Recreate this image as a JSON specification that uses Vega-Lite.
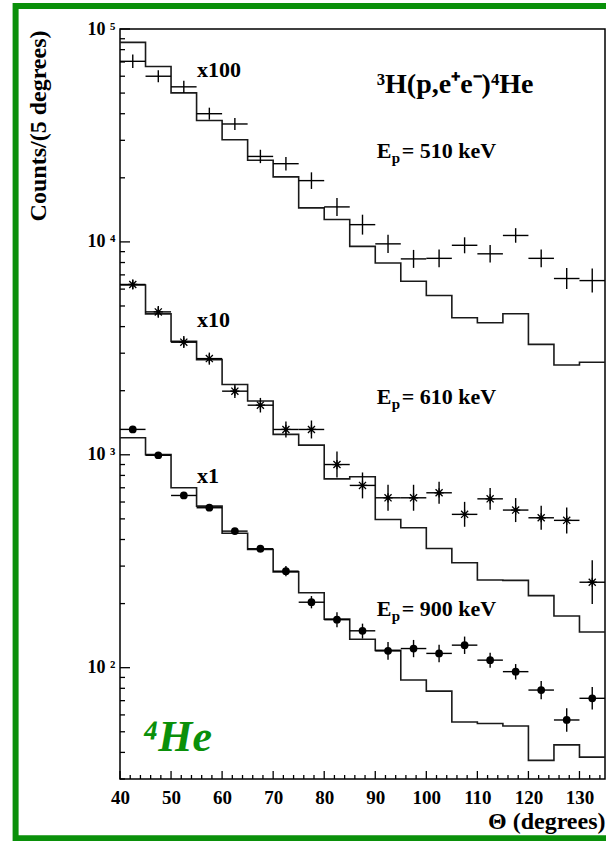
{
  "$schema": "https://vega.github.io/schema/vega-lite/v6.json",
  "width": 485,
  "height": 750,
  "autosize": {"type": "none"},
  "padding": {"left": 120, "top": 29, "right": 1, "bottom": 62},
  "background": "white",
  "config": {
    "view": {"stroke": "black", "strokeWidth": 1.5},
    "font": "Liberation Serif",
    "axis": {"labelFlush": false, "labelBound": false, "grid": false, "ticks": false, "domain": false, "labelColor": "black", "labelFont": "Liberation Serif", "labelFontWeight": "bold", "titleColor": "black", "titleFont": "Liberation Serif", "titleFontWeight": "bold"}
  },
  "datasets": {
    "hist": [
      {"E": "510", "x": 40, "c": 86500}, {"E": "510", "x": 45, "c": 66700}, {"E": "510", "x": 50, "c": 50100}, {"E": "510", "x": 55, "c": 37200},
      {"E": "510", "x": 60, "c": 30200}, {"E": "510", "x": 65, "c": 24200}, {"E": "510", "x": 70, "c": 20200}, {"E": "510", "x": 75, "c": 14450},
      {"E": "510", "x": 80, "c": 12740}, {"E": "510", "x": 85, "c": 9530}, {"E": "510", "x": 90, "c": 7960}, {"E": "510", "x": 95, "c": 6530},
      {"E": "510", "x": 100, "c": 5600}, {"E": "510", "x": 105, "c": 4400}, {"E": "510", "x": 110, "c": 4170}, {"E": "510", "x": 115, "c": 4600},
      {"E": "510", "x": 120, "c": 3300}, {"E": "510", "x": 125, "c": 2640}, {"E": "510", "x": 130, "c": 2720}, {"E": "510", "x": 135, "c": 2720},
      {"E": "610", "x": 40, "c": 6270}, {"E": "610", "x": 45, "c": 4590}, {"E": "610", "x": 50, "c": 3410}, {"E": "610", "x": 55, "c": 2800},
      {"E": "610", "x": 60, "c": 2140}, {"E": "610", "x": 65, "c": 1790}, {"E": "610", "x": 70, "c": 1247}, {"E": "610", "x": 75, "c": 1110},
      {"E": "610", "x": 80, "c": 771}, {"E": "610", "x": 85, "c": 788}, {"E": "610", "x": 90, "c": 497}, {"E": "610", "x": 95, "c": 454},
      {"E": "610", "x": 100, "c": 363}, {"E": "610", "x": 105, "c": 311}, {"E": "610", "x": 110, "c": 258}, {"E": "610", "x": 115, "c": 257},
      {"E": "610", "x": 120, "c": 218}, {"E": "610", "x": 125, "c": 175}, {"E": "610", "x": 130, "c": 147}, {"E": "610", "x": 135, "c": 147},
      {"E": "900", "x": 40, "c": 1202}, {"E": "900", "x": 45, "c": 1002}, {"E": "900", "x": 50, "c": 700}, {"E": "900", "x": 55, "c": 574},
      {"E": "900", "x": 60, "c": 428}, {"E": "900", "x": 65, "c": 359}, {"E": "900", "x": 70, "c": 282}, {"E": "900", "x": 75, "c": 225},
      {"E": "900", "x": 80, "c": 169}, {"E": "900", "x": 85, "c": 136}, {"E": "900", "x": 90, "c": 120.6}, {"E": "900", "x": 95, "c": 87.5},
      {"E": "900", "x": 100, "c": 77.6}, {"E": "900", "x": 105, "c": 55.6}, {"E": "900", "x": 110, "c": 54.7}, {"E": "900", "x": 115, "c": 53.2},
      {"E": "900", "x": 120, "c": 36.7}, {"E": "900", "x": 125, "c": 43.4}, {"E": "900", "x": 130, "c": 38.0}, {"E": "900", "x": 135, "c": 38.0}
    ],
    "pts": [
      {"E": "510", "x": 42.5, "x0": 40, "x1": 45, "c": 70500, "lo": 65600, "hi": 75800},
      {"E": "510", "x": 47.5, "x0": 45, "x1": 50, "c": 60000, "lo": 56200, "hi": 64000},
      {"E": "510", "x": 52.5, "x0": 50, "x1": 55, "c": 53500, "lo": 50100, "hi": 57100},
      {"E": "510", "x": 57.5, "x0": 55, "x1": 60, "c": 40000, "lo": 37500, "hi": 42700},
      {"E": "510", "x": 62.5, "x0": 60, "x1": 65, "c": 35800, "lo": 33550, "hi": 38200},
      {"E": "510", "x": 67.5, "x0": 65, "x1": 70, "c": 25200, "lo": 23440, "hi": 27090},
      {"E": "510", "x": 72.5, "x0": 70, "x1": 75, "c": 23300, "lo": 21670, "hi": 25050},
      {"E": "510", "x": 77.5, "x0": 75, "x1": 80, "c": 19400, "lo": 17730, "hi": 21220},
      {"E": "510", "x": 82.5, "x0": 80, "x1": 85, "c": 14600, "lo": 13250, "hi": 16090},
      {"E": "510", "x": 87.5, "x0": 85, "x1": 90, "c": 12050, "lo": 10820, "hi": 13420},
      {"E": "510", "x": 92.5, "x0": 90, "x1": 95, "c": 9790, "lo": 8880, "hi": 10790},
      {"E": "510", "x": 97.5, "x0": 95, "x1": 100, "c": 8320, "lo": 7550, "hi": 9170},
      {"E": "510", "x": 102.5, "x0": 100, "x1": 105, "c": 8370, "lo": 7600, "hi": 9220},
      {"E": "510", "x": 107.5, "x0": 105, "x1": 110, "c": 9640, "lo": 8840, "hi": 10510},
      {"E": "510", "x": 112.5, "x0": 110, "x1": 115, "c": 8790, "lo": 8000, "hi": 9660},
      {"E": "510", "x": 117.5, "x0": 115, "x1": 120, "c": 10720, "lo": 9910, "hi": 11600},
      {"E": "510", "x": 122.5, "x0": 120, "x1": 125, "c": 8370, "lo": 7600, "hi": 9220},
      {"E": "510", "x": 127.5, "x0": 125, "x1": 130, "c": 6730, "lo": 6010, "hi": 7540},
      {"E": "510", "x": 132.5, "x0": 130, "x1": 135, "c": 6580, "lo": 5780, "hi": 7490},
      {"E": "610", "x": 42.5, "x0": 40, "x1": 45, "c": 6310, "lo": 5980, "hi": 6660},
      {"E": "610", "x": 47.5, "x0": 45, "x1": 50, "c": 4690, "lo": 4400, "hi": 5000},
      {"E": "610", "x": 52.5, "x0": 50, "x1": 55, "c": 3380, "lo": 3170, "hi": 3610},
      {"E": "610", "x": 57.5, "x0": 55, "x1": 60, "c": 2830, "lo": 2650, "hi": 3020},
      {"E": "610", "x": 62.5, "x0": 60, "x1": 65, "c": 1990, "lo": 1850, "hi": 2140},
      {"E": "610", "x": 67.5, "x0": 65, "x1": 70, "c": 1710, "lo": 1580, "hi": 1850},
      {"E": "610", "x": 72.5, "x0": 70, "x1": 75, "c": 1315, "lo": 1206, "hi": 1433},
      {"E": "610", "x": 77.5, "x0": 75, "x1": 80, "c": 1315, "lo": 1193, "hi": 1449},
      {"E": "610", "x": 82.5, "x0": 80, "x1": 85, "c": 900, "lo": 782, "hi": 1036},
      {"E": "610", "x": 87.5, "x0": 85, "x1": 90, "c": 718, "lo": 624, "hi": 826},
      {"E": "610", "x": 92.5, "x0": 90, "x1": 95, "c": 628, "lo": 546, "hi": 723},
      {"E": "610", "x": 97.5, "x0": 95, "x1": 100, "c": 628, "lo": 546, "hi": 723},
      {"E": "610", "x": 102.5, "x0": 100, "x1": 105, "c": 663, "lo": 589, "hi": 747},
      {"E": "610", "x": 107.5, "x0": 105, "x1": 110, "c": 525, "lo": 459, "hi": 601},
      {"E": "610", "x": 112.5, "x0": 110, "x1": 115, "c": 621, "lo": 552, "hi": 699},
      {"E": "610", "x": 117.5, "x0": 115, "x1": 120, "c": 550, "lo": 483, "hi": 626},
      {"E": "610", "x": 122.5, "x0": 120, "x1": 125, "c": 506, "lo": 444, "hi": 576},
      {"E": "610", "x": 127.5, "x0": 125, "x1": 130, "c": 492, "lo": 427, "hi": 566},
      {"E": "610", "x": 132.5, "x0": 130, "x1": 135, "c": 252, "lo": 199, "hi": 320},
      {"E": "900", "x": 42.5, "x0": 40, "x1": 45, "c": 1316, "lo": 1274, "hi": 1359},
      {"E": "900", "x": 47.5, "x0": 45, "x1": 50, "c": 995, "lo": 963, "hi": 1028},
      {"E": "900", "x": 52.5, "x0": 50, "x1": 55, "c": 644, "lo": 623, "hi": 665},
      {"E": "900", "x": 57.5, "x0": 55, "x1": 60, "c": 564, "lo": 546, "hi": 583},
      {"E": "900", "x": 62.5, "x0": 60, "x1": 65, "c": 438, "lo": 424, "hi": 452},
      {"E": "900", "x": 67.5, "x0": 65, "x1": 70, "c": 362, "lo": 348, "hi": 376},
      {"E": "900", "x": 72.5, "x0": 70, "x1": 75, "c": 284, "lo": 269, "hi": 300},
      {"E": "900", "x": 77.5, "x0": 75, "x1": 80, "c": 203, "lo": 190, "hi": 217},
      {"E": "900", "x": 82.5, "x0": 80, "x1": 85, "c": 168, "lo": 155, "hi": 182},
      {"E": "900", "x": 87.5, "x0": 85, "x1": 90, "c": 149, "lo": 137, "hi": 161},
      {"E": "900", "x": 92.5, "x0": 90, "x1": 95, "c": 120, "lo": 109, "hi": 132},
      {"E": "900", "x": 97.5, "x0": 95, "x1": 100, "c": 123, "lo": 112, "hi": 135},
      {"E": "900", "x": 102.5, "x0": 100, "x1": 105, "c": 116.7, "lo": 106, "hi": 128},
      {"E": "900", "x": 107.5, "x0": 105, "x1": 110, "c": 127.6, "lo": 116, "hi": 140},
      {"E": "900", "x": 112.5, "x0": 110, "x1": 115, "c": 108.5, "lo": 100, "hi": 117.6},
      {"E": "900", "x": 117.5, "x0": 115, "x1": 120, "c": 95.8, "lo": 88, "hi": 104},
      {"E": "900", "x": 122.5, "x0": 120, "x1": 125, "c": 78.5, "lo": 71.1, "hi": 86.7},
      {"E": "900", "x": 127.5, "x0": 125, "x1": 130, "c": 56.8, "lo": 50.0, "hi": 64.5},
      {"E": "900", "x": 132.5, "x0": 130, "x1": 135, "c": 71.8, "lo": 63.6, "hi": 81.1}
    ],
    "xticks": [
      {"v": 40, "at": 30, "m": 1}, {"v": 42, "at": 30, "m": 0}, {"v": 44, "at": 30, "m": 0}, {"v": 46, "at": 30, "m": 0}, {"v": 48, "at": 30, "m": 0},
      {"v": 50, "at": 30, "m": 1}, {"v": 52, "at": 30, "m": 0}, {"v": 54, "at": 30, "m": 0}, {"v": 56, "at": 30, "m": 0}, {"v": 58, "at": 30, "m": 0},
      {"v": 60, "at": 30, "m": 1}, {"v": 62, "at": 30, "m": 0}, {"v": 64, "at": 30, "m": 0}, {"v": 66, "at": 30, "m": 0}, {"v": 68, "at": 30, "m": 0},
      {"v": 70, "at": 30, "m": 1}, {"v": 72, "at": 30, "m": 0}, {"v": 74, "at": 30, "m": 0}, {"v": 76, "at": 30, "m": 0}, {"v": 78, "at": 30, "m": 0},
      {"v": 80, "at": 30, "m": 1}, {"v": 82, "at": 30, "m": 0}, {"v": 84, "at": 30, "m": 0}, {"v": 86, "at": 30, "m": 0}, {"v": 88, "at": 30, "m": 0},
      {"v": 90, "at": 30, "m": 1}, {"v": 92, "at": 30, "m": 0}, {"v": 94, "at": 30, "m": 0}, {"v": 96, "at": 30, "m": 0}, {"v": 98, "at": 30, "m": 0},
      {"v": 100, "at": 30, "m": 1}, {"v": 102, "at": 30, "m": 0}, {"v": 104, "at": 30, "m": 0}, {"v": 106, "at": 30, "m": 0}, {"v": 108, "at": 30, "m": 0},
      {"v": 110, "at": 30, "m": 1}, {"v": 112, "at": 30, "m": 0}, {"v": 114, "at": 30, "m": 0}, {"v": 116, "at": 30, "m": 0}, {"v": 118, "at": 30, "m": 0},
      {"v": 120, "at": 30, "m": 1}, {"v": 122, "at": 30, "m": 0}, {"v": 124, "at": 30, "m": 0}, {"v": 126, "at": 30, "m": 0}, {"v": 128, "at": 30, "m": 0},
      {"v": 130, "at": 30, "m": 1}, {"v": 132, "at": 30, "m": 0}, {"v": 134, "at": 30, "m": 0}
    ],
    "yticks": [
      {"v": 30, "at": 40, "m": 0}, {"v": 40, "at": 40, "m": 0}, {"v": 50, "at": 40, "m": 0}, {"v": 60, "at": 40, "m": 0}, {"v": 70, "at": 40, "m": 0}, {"v": 80, "at": 40, "m": 0}, {"v": 90, "at": 40, "m": 0},
      {"v": 100, "at": 40, "m": 1}, {"v": 200, "at": 40, "m": 0}, {"v": 300, "at": 40, "m": 0}, {"v": 400, "at": 40, "m": 0}, {"v": 500, "at": 40, "m": 0}, {"v": 600, "at": 40, "m": 0}, {"v": 700, "at": 40, "m": 0}, {"v": 800, "at": 40, "m": 0}, {"v": 900, "at": 40, "m": 0},
      {"v": 1000, "at": 40, "m": 1}, {"v": 2000, "at": 40, "m": 0}, {"v": 3000, "at": 40, "m": 0}, {"v": 4000, "at": 40, "m": 0}, {"v": 5000, "at": 40, "m": 0}, {"v": 6000, "at": 40, "m": 0}, {"v": 7000, "at": 40, "m": 0}, {"v": 8000, "at": 40, "m": 0}, {"v": 9000, "at": 40, "m": 0},
      {"v": 10000, "at": 40, "m": 1}, {"v": 20000, "at": 40, "m": 0}, {"v": 30000, "at": 40, "m": 0}, {"v": 40000, "at": 40, "m": 0}, {"v": 50000, "at": 40, "m": 0}, {"v": 60000, "at": 40, "m": 0}, {"v": 70000, "at": 40, "m": 0}, {"v": 80000, "at": 40, "m": 0}, {"v": 90000, "at": 40, "m": 0},
      {"v": 100000, "at": 40, "m": 1}
    ],
    "mult": [
      {"t": "x100", "x": 55.1, "c": 64100},
      {"t": "x10", "x": 55.1, "c": 4300},
      {"t": "x1", "x": 55.1, "c": 795}
    ],
    "ep": [
      {"t": "= 510 keV", "x": 90.28, "c": 24880},
      {"t": "= 610 keV", "x": 90.28, "c": 1736},
      {"t": "= 900 keV", "x": 90.28, "c": 174.1}
    ],
    "reaction": [{"t": "³H(p,e⁺e⁻)⁴He", "x": 90.28, "c": 50080}],
    "nucleus": [{"t": "⁴He", "x": 44.5, "c": 40.5}],
    "frame": [{"x": 19.55, "x2": 150, "c": 128200, "c2": 15.8}]
  },
  "layer": [
    {
      "data": {"name": "hist"},
      "mark": {"type": "line", "interpolate": "step-after", "color": "#1a1a1a", "strokeWidth": 1.6},
      "encoding": {
        "x": {
          "field": "x", "type": "quantitative",
          "scale": {"domain": [40, 135], "nice": false, "zero": false},
          "axis": {
            "values": [40, 50, 60, 70, 80, 90, 100, 110, 120, 130],
            "ticks": false,
            "labelPadding": 9,
            "labelFontSize": 19,
            "title": "Θ (degrees)", "titleFontSize": 24,
            "titleAnchor": "end", "titleX": 485, "titleY": 42, "titleAlign": "right", "titleBaseline": "middle"
          }
        },
        "y": {
          "field": "c", "type": "quantitative",
          "scale": {"type": "log", "domain": [30, 100000], "nice": false},
          "axis": {
            "values": [100, 1000, 10000, 100000],
            "labelExpr": "datum.value == 100 ? '10 ²' : datum.value == 1000 ? '10 ³' : datum.value == 10000 ? '10 ⁴' : '10 ⁵'",
            "ticks": false,
            "labelPadding": 5,
            "labelFontSize": 18,
            "title": "Counts/(5 degrees)", "titleFontSize": 24,
            "titleAngle": -90, "titleX": -82, "titleY": 1, "titleAlign": "right", "titleBaseline": "middle"
          }
        },
        "detail": {"field": "E"}
      }
    },
    {
      "data": {"name": "xticks"},
      "transform": [{"filter": "datum.m == 1"}],
      "mark": {"type": "point", "shape": "M0,0L0,-2", "filled": false, "stroke": "black", "strokeWidth": 1.3, "size": 64, "opacity": 1},
      "encoding": {
        "x": {"field": "v", "type": "quantitative"},
        "y": {"field": "at", "type": "quantitative"}
      }
    },
    {
      "data": {"name": "xticks"},
      "transform": [{"filter": "datum.m == 0"}],
      "mark": {"type": "point", "shape": "M0,0L0,-2", "filled": false, "stroke": "black", "strokeWidth": 1.3, "size": 16, "opacity": 1},
      "encoding": {
        "x": {"field": "v", "type": "quantitative"},
        "y": {"field": "at", "type": "quantitative"}
      }
    },
    {
      "data": {"name": "yticks"},
      "transform": [{"filter": "datum.m == 1"}],
      "mark": {"type": "point", "shape": "M0,0L2,0", "filled": false, "stroke": "black", "strokeWidth": 1.3, "size": 100, "opacity": 1},
      "encoding": {
        "x": {"field": "at", "type": "quantitative"},
        "y": {"field": "v", "type": "quantitative"}
      }
    },
    {
      "data": {"name": "yticks"},
      "transform": [{"filter": "datum.m == 0"}],
      "mark": {"type": "point", "shape": "M0,0L2,0", "filled": false, "stroke": "black", "strokeWidth": 1.3, "size": 25, "opacity": 1},
      "encoding": {
        "x": {"field": "at", "type": "quantitative"},
        "y": {"field": "v", "type": "quantitative"}
      }
    },
    {
      "data": {"name": "pts"},
      "mark": {"type": "rule", "color": "black", "strokeWidth": 1.4},
      "encoding": {
        "x": {"field": "x", "type": "quantitative"},
        "y": {"field": "lo", "type": "quantitative"},
        "y2": {"field": "hi"}
      }
    },
    {
      "data": {"name": "pts"},
      "mark": {"type": "rule", "color": "black", "strokeWidth": 1.4},
      "encoding": {
        "x": {"field": "x0", "type": "quantitative"},
        "x2": {"field": "x1"},
        "y": {"field": "c", "type": "quantitative"}
      }
    },
    {
      "data": {"name": "pts"},
      "transform": [{"filter": "datum.E == '610'"}],
      "mark": {"type": "point", "shape": "M-1,-1L1,1M-1,1L1,-1M0,-1.3L0,1.3M-1.3,0L1.3,0", "filled": false, "stroke": "black", "strokeWidth": 1.3, "size": 50, "opacity": 1},
      "encoding": {
        "x": {"field": "x", "type": "quantitative"},
        "y": {"field": "c", "type": "quantitative"}
      }
    },
    {
      "data": {"name": "pts"},
      "transform": [{"filter": "datum.E == '610'"}],
      "mark": {"type": "square", "color": "black", "size": 10, "opacity": 1},
      "encoding": {
        "x": {"field": "x", "type": "quantitative"},
        "y": {"field": "c", "type": "quantitative"}
      }
    },
    {
      "data": {"name": "pts"},
      "transform": [{"filter": "datum.E == '900'"}],
      "mark": {"type": "circle", "color": "black", "size": 60, "opacity": 1},
      "encoding": {
        "x": {"field": "x", "type": "quantitative"},
        "y": {"field": "c", "type": "quantitative"}
      }
    },
    {
      "data": {"name": "mult"},
      "mark": {"type": "text", "align": "left", "baseline": "middle", "font": "Liberation Serif", "fontWeight": "bold", "fontSize": 22, "color": "black"},
      "encoding": {
        "x": {"field": "x", "type": "quantitative"},
        "y": {"field": "c", "type": "quantitative"},
        "text": {"field": "t"}
      }
    },
    {
      "data": {"name": "ep"},
      "mark": {"type": "text", "align": "left", "baseline": "alphabetic", "font": "Liberation Serif", "fontWeight": "bold", "fontSize": 22, "color": "black", "text": "E"},
      "encoding": {
        "x": {"field": "x", "type": "quantitative"},
        "y": {"field": "c", "type": "quantitative"}
      }
    },
    {
      "data": {"name": "ep"},
      "mark": {"type": "text", "align": "left", "baseline": "alphabetic", "font": "Liberation Serif", "fontWeight": "bold", "fontSize": 15, "color": "black", "text": "p", "dx": 15, "dy": 5},
      "encoding": {
        "x": {"field": "x", "type": "quantitative"},
        "y": {"field": "c", "type": "quantitative"}
      }
    },
    {
      "data": {"name": "ep"},
      "mark": {"type": "text", "align": "left", "baseline": "alphabetic", "font": "Liberation Serif", "fontWeight": "bold", "fontSize": 22, "color": "black", "dx": 25},
      "encoding": {
        "x": {"field": "x", "type": "quantitative"},
        "y": {"field": "c", "type": "quantitative"},
        "text": {"field": "t"}
      }
    },
    {
      "data": {"name": "reaction"},
      "mark": {"type": "text", "align": "left", "baseline": "alphabetic", "font": "Liberation Serif", "fontWeight": "bold", "fontSize": 28, "color": "black"},
      "encoding": {
        "x": {"field": "x", "type": "quantitative"},
        "y": {"field": "c", "type": "quantitative"},
        "text": {"field": "t"}
      }
    },
    {
      "data": {"name": "nucleus"},
      "mark": {"type": "text", "align": "left", "baseline": "alphabetic", "font": "Liberation Serif", "fontWeight": "bold", "fontStyle": "italic", "fontSize": 44, "color": "#0a900a"},
      "encoding": {
        "x": {"field": "x", "type": "quantitative"},
        "y": {"field": "c", "type": "quantitative"},
        "text": {"field": "t"}
      }
    },
    {
      "data": {"name": "frame"},
      "mark": {"type": "rect", "filled": false, "stroke": "#0a900a", "strokeWidth": 6, "clip": false},
      "encoding": {
        "x": {"field": "x", "type": "quantitative"},
        "x2": {"field": "x2"},
        "y": {"field": "c", "type": "quantitative"},
        "y2": {"field": "c2"}
      }
    }
  ]
}
